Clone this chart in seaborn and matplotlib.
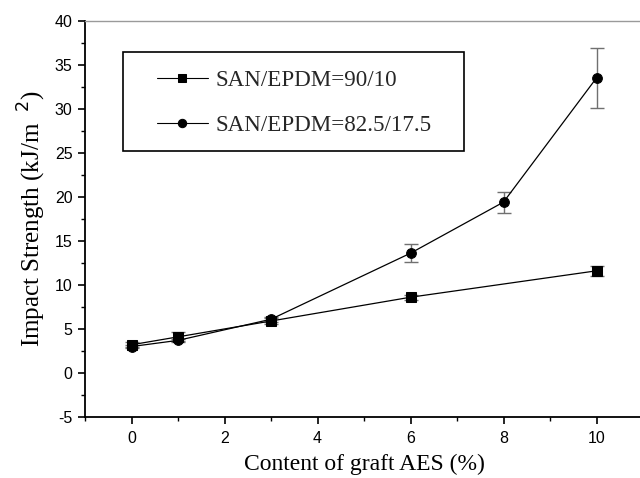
import matplotlib
matplotlib.use("Agg")
import matplotlib.pyplot as plt
from matplotlib.ticker import MultipleLocator
from matplotlib.patches import Rectangle
import seaborn as sns
import pandas as pd

# ---- data ----
x_9010 = [0, 1, 3, 6, 10]
y_9010 = [3.2, 4.1, 5.9, 8.6, 11.6]
e_9010 = [0.3, 0.5, 0.3, 0.3, 0.6]

x_8252 = [0, 1, 3, 6, 8, 10]
y_8252 = [3.0, 3.7, 6.1, 13.6, 19.4, 33.5]
e_8252 = [0.2, 0.2, 0.3, 1.0, 1.2, 3.4]

labels = ["SAN/EPDM=90/10", "SAN/EPDM=82.5/17.5"]
x_label = "Content of graft AES (%)"
y_label = r"Impact Strength (kJ/m$^{\ \ 2}$)"

df = pd.concat([
    pd.DataFrame({"x": x_9010, "y": y_9010, "err": e_9010, "series": labels[0]}),
    pd.DataFrame({"x": x_8252, "y": y_8252, "err": e_8252, "series": labels[1]}),
], ignore_index=True)

sns.set_theme(style="ticks")
plt.rcParams["font.family"] = ["Liberation Sans", "DejaVu Sans"]
plt.rcParams["axes.unicode_minus"] = False

fig = plt.figure(figsize=(6.4, 4.78), dpi=100)
ax = fig.add_axes([85 / 640, (478 - 417) / 478, 558 / 640, 396.3 / 478])

# error bars
for lab, g in df.groupby("series", sort=False):
    ax.errorbar(g["x"], g["y"], yerr=g["err"], fmt="none", ecolor="#707070",
                elinewidth=1.0, capsize=5, capthick=1.0, zorder=2)

sns.lineplot(data=df, x="x", y="y", hue="series", style="series",
             palette=["black", "black"], markers=["s", "o"], dashes=False,
             markersize=7, linewidth=0.9, markeredgecolor="black",
             hue_order=labels, style_order=labels, ax=ax, zorder=3,
             errorbar=None, sort=True)

ax.set_xlim(-1, 11)
ax.set_ylim(-5, 40)
ax.xaxis.set_major_locator(MultipleLocator(2))
ax.xaxis.set_minor_locator(MultipleLocator(1))
ax.yaxis.set_major_locator(MultipleLocator(5))
ax.yaxis.set_minor_locator(MultipleLocator(2.5))
ax.tick_params(which="major", direction="out", length=5, width=1.2,
               labelsize=11.5, color="black", labelcolor="black", pad=4)
ax.tick_params(which="minor", direction="out", length=3, width=1.0, color="black")
ax.tick_params(axis="x", which="major", pad=5)

for s in ["left", "bottom"]:
    ax.spines[s].set_color("black")
    ax.spines[s].set_linewidth(1.3)
ax.spines["top"].set_color("#9a9a9a")
ax.spines["top"].set_linewidth(1.0)
ax.spines["right"].set_visible(False)

ax.set_xlabel(x_label, family=["Liberation Serif"], fontsize=17, color="black", labelpad=6)
ax.set_ylabel(y_label, family=["Liberation Serif"], fontsize=18, color="black", labelpad=5)

# legend frame drawn as a separate box
ax.add_patch(Rectangle((122.7 / 640, 1 - 151 / 478), (464 - 122.7) / 640,
                       (151 - 52) / 478, transform=fig.transFigure,
                       facecolor="white", edgecolor="black", linewidth=1.2,
                       zorder=4, clip_on=False))

handles, labs = ax.get_legend_handles_labels()
for h in handles:
    h.set_markersize(6)
    h.set_linewidth(0.8)
leg = ax.legend(handles, labs, loc="upper left",
                bbox_to_anchor=(157 / 640, 1 - 70 / 478),
                bbox_transform=fig.transFigure,
                prop={"family": "Liberation Serif", "size": 16.6},
                frameon=False, borderpad=0, handlelength=2.2,
                handletextpad=0.35, labelspacing=1.05, borderaxespad=0)
leg.set_zorder(5)

fig.savefig("out.png", dpi=100)
